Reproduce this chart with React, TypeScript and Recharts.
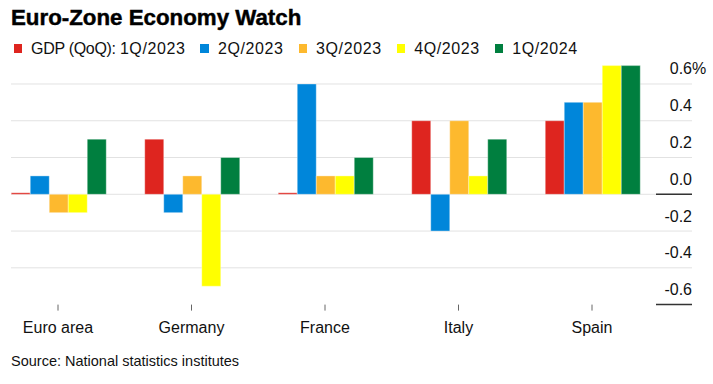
import { BarChart, Bar, XAxis, YAxis, CartesianGrid } from "recharts";

const countries = ["Euro area", "Germany", "France", "Italy", "Spain"];
const seriesNames = ["1Q/2023", "2Q/2023", "3Q/2023", "4Q/2023", "1Q/2024"];
const seriesColors = ["#DE251F", "#0086DA", "#FDB92E", "#FFFF00", "#007F3F"];
const legendPrefix = "GDP (QoQ): ";

const q1_2023 = [0.0, 0.3, 0.0, 0.4, 0.4];
const q2_2023 = [0.1, -0.1, 0.6, -0.2, 0.5];
const q3_2023 = [-0.1, 0.1, 0.1, 0.4, 0.5];
const q4_2023 = [-0.1, -0.5, 0.1, 0.1, 0.7];
const q1_2024 = [0.3, 0.2, 0.2, 0.3, 0.7];

const yTicks = [-0.6, -0.4, -0.2, 0, 0.2, 0.4, 0.6];
const gridValues = [-0.4, -0.2, 0, 0.2, 0.4, 0.6];

const seriesValues = [q1_2023, q2_2023, q3_2023, q4_2023, q1_2024];

// tabla para recharts
const data = countries.map((country, i) => {
  const row: { [key: string]: string | number } = { country };
  seriesNames.forEach((name, s) => {
    row[name] = seriesValues[s][i];
  });
  return row;
});

const FONT = "'Liberation Sans', Arial, sans-serif";

function YTick(props: any) {
  const { x, y, payload } = props;
  const v: number = payload.value;
  const label = v.toFixed(1);
  const dark = v === 0 || v === -0.6;
  return (
    <g>
      {dark && <line x1={x - 36} x2={x} y1={y} y2={y} stroke="#333" strokeWidth={1.5} />}
      <text x={x} y={y - 9.5} textAnchor="end" fontSize={16} fill="#111" fontFamily={FONT}>
        {label}
      </text>
      {v === 0.6 && (
        <text x={x} y={y - 9.5} textAnchor="start" fontSize={16} fill="#111" fontFamily={FONT}>
          %
        </text>
      )}
    </g>
  );
}

export default function App() {
  return (
    <div
      style={{
        position: "absolute",
        left: 0,
        top: 0,
        width: 713,
        height: 384,
        background: "#fff",
        fontFamily: FONT,
        color: "#111",
      }}
    >
      <div
        style={{
          position: "absolute",
          left: 11,
          top: 7,
          fontSize: 22.3,
          lineHeight: "22px",
          fontWeight: 700,
          color: "#000",
          WebkitTextStroke: "0.45px #000",
        }}
      >
        Euro-Zone Economy Watch
      </div>

      <div
        style={{
          position: "absolute",
          left: 13.5,
          top: 40.5,
          display: "flex",
          alignItems: "center",
          fontSize: 16,
          lineHeight: "16px",
          whiteSpace: "pre",
        }}
      >
        {seriesNames.map((name, i) => (
          <div key={name} style={{ display: "flex", alignItems: "center", marginRight: 15 }}>
            <span
              style={{
                display: "inline-block",
                width: 8.5,
                height: 9,
                background: seriesColors[i],
                marginRight: 9,
              }}
            />
            {i === 0 && <span style={{ letterSpacing: -0.3, whiteSpace: "pre" }}>{legendPrefix}</span>}
            <span style={{ letterSpacing: 0.6 }}>{name}</span>
          </div>
        ))}
      </div>

      <div
        style={{
          position: "absolute",
          left: 11,
          top: 354,
          fontSize: 14.5,
          lineHeight: "14.5px",
        }}
      >
        Source: National statistics institutes
      </div>

      <div style={{ position: "absolute", left: 0, top: 0 }}>
        <BarChart
          width={713}
          height={384}
          data={data}
          margin={{ top: 65.6, right: 0, bottom: 49.4, left: 11 }}
          barCategoryGap={20}
          barGap={0}
        >
          <CartesianGrid
            vertical={false}
            horizontalValues={gridValues}
            stroke="#E2E2E2"
            strokeWidth={1}
          />
          <XAxis
            dataKey="country"
            height={30}
            interval={0}
            padding={{ left: -19.75, right: 33.25 }}
            axisLine={false}
            tickSize={6}
            tickMargin={11}
            tickLine={{ stroke: "#666" }}
            tick={{ fontSize: 16, fill: "#111", fontFamily: FONT }}
          />
          <YAxis
            orientation="right"
            type="number"
            width={21}
            domain={[-0.6, 0.7]}
            ticks={yTicks}
            interval={0}
            axisLine={false}
            tickLine={false}
            tickSize={0}
            tickMargin={0}
            tick={<YTick />}
          />
          {seriesNames.map((name, i) => (
            <Bar
              key={name}
              dataKey={name}
              fill={seriesColors[i]}
              stroke="#fff"
              strokeOpacity={0.35}
              strokeWidth={1}
              minPointSize={i === 0 ? 1.5 : 0}
              isAnimationActive={false}
            />
          ))}
        </BarChart>
      </div>
    </div>
  );
}
